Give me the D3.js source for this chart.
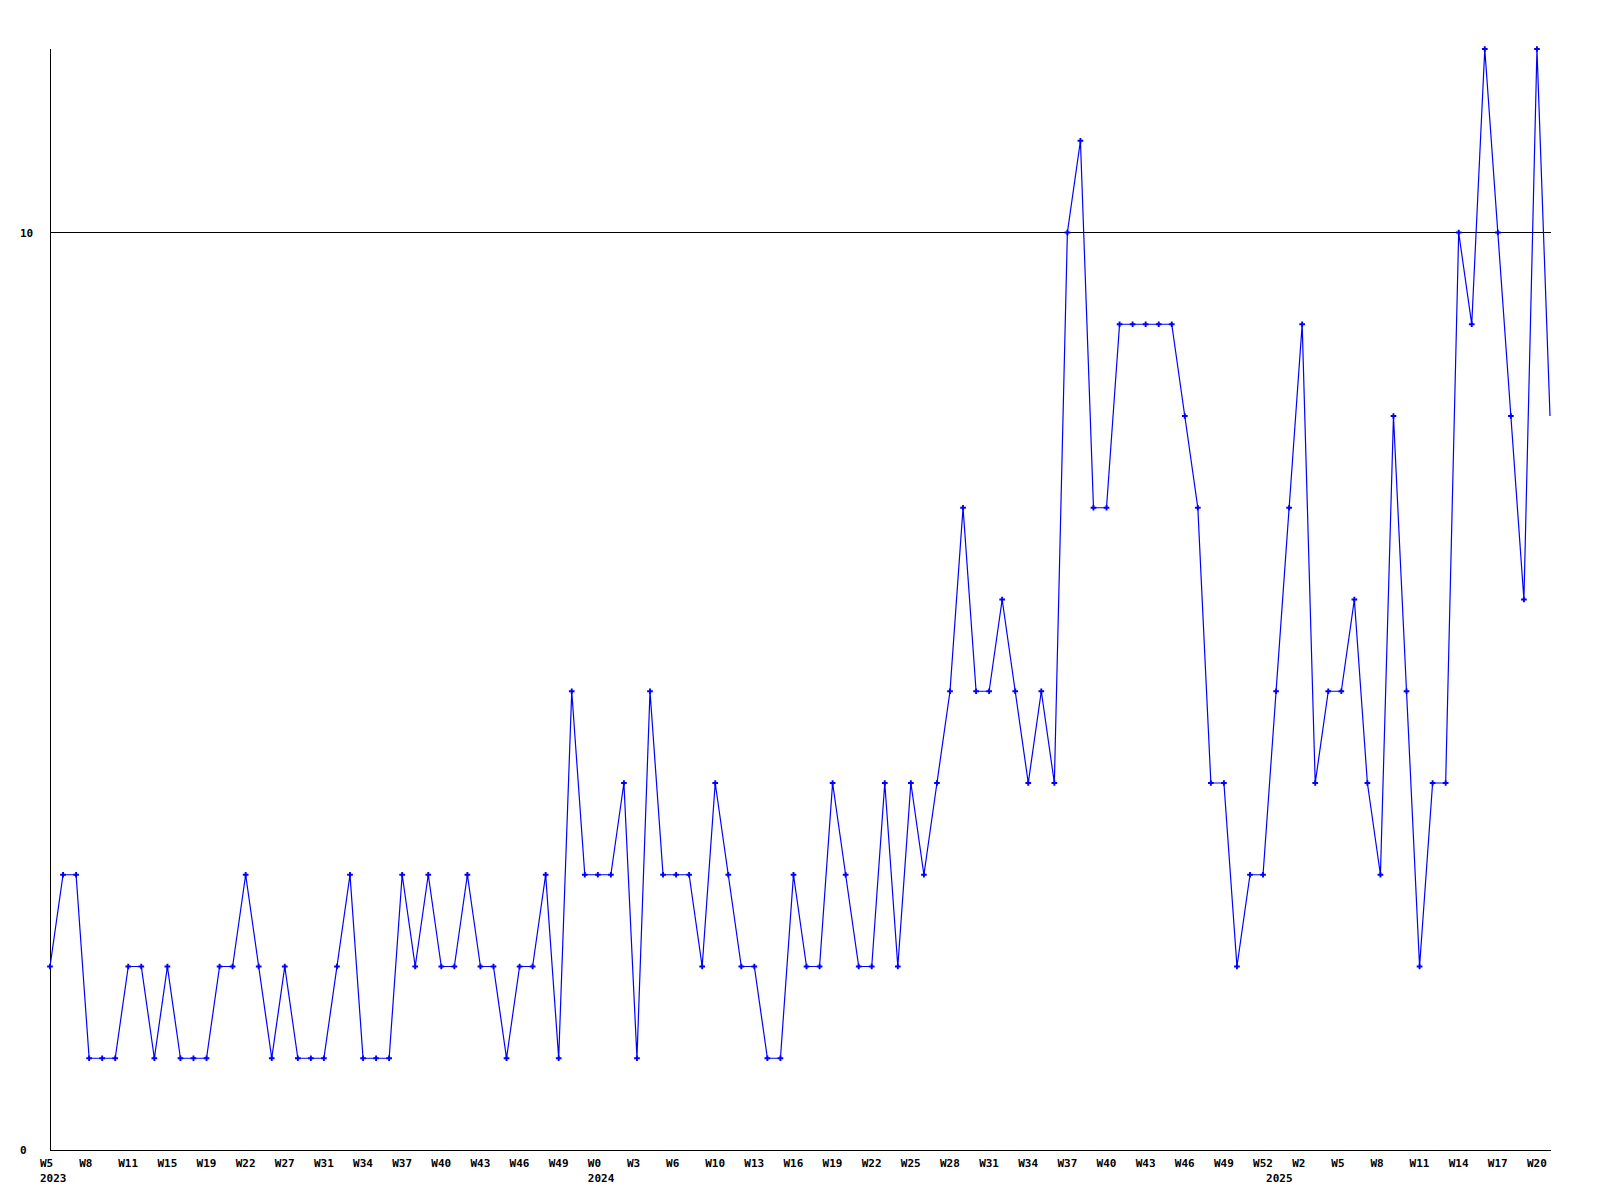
<!DOCTYPE html>
<html>
<head>
<meta charset="utf-8">
<script src="https://cdn.jsdelivr.net/npm/d3@7"></script>
<style>
  html, body { margin: 0; padding: 0; background: #fff; }
  svg { display: block; }
  text { font-family: "DejaVu Sans Mono", monospace; font-weight: bold; font-size: 11px; fill: #000; }
</style>
</head>
<body>
<svg id="chart" width="1600" height="1200"></svg>
<script>
// Weekly counts (one point per recorded week)
const values = [
  2,3,3,1,1,1,2,2,1,2,
  1,1,1,2,2,3,2,1,2,1,
  1,1,2,3,1,1,1,3,2,3,
  2,2,3,2,2,1,2,2,3,1,
  5,3,3,3,4,1,5,3,3,3,
  2,4,3,2,2,1,1,3,2,2,
  4,3,2,2,4,2,4,3,4,5,
  7,5,5,6,5,4,5,4,10,11,
  7,7,9,9,9,9,9,8,7,4,
  4,2,3,3,5,7,9,4,5,5,
  6,4,3,8,5,2,4,4,10,9,
  12,10,8,6,12,8
];
// Week labels shown on every third point
const weekLabels = [
  "W5","W8","W11","W15","W19","W22","W27","W31","W34","W37","W40","W43","W46","W49",
  "W0","W3","W6","W10","W13","W16","W19","W22","W25","W28","W31","W34","W37","W40","W43","W46","W49","W52",
  "W2","W5","W8","W11","W14","W17","W20"
];
const labelEvery = 3;
// Year labels and the point index at which each year starts
const years = ["2023","2024","2025"];
const yearStartIndex = [0, 42, 94];
// Y axis labelled values
const yTicks = [0, 10];
const yMax = 12;

(function () {
  const svg = d3.select("#chart");
  const mLeft = 50, mRight = 1550, mTop = 49, mBottom = 1150;

  const x = d3.scaleLinear().domain([0, values.length - 1]).range([mLeft, mRight]);
  const y = d3.scaleLinear().domain([0, yMax]).range([mBottom, mTop]);

  // Left axis line
  svg.append("line").attr("x1", mLeft + 0.5).attr("x2", mLeft + 0.5)
    .attr("y1", mTop).attr("y2", mBottom + 1)
    .attr("stroke", "#000").attr("stroke-width", 1).attr("shape-rendering", "crispEdges");

  // Horizontal lines at labelled y values (0 is the x axis)
  svg.selectAll("line.hgrid").data(yTicks).join("line")
    .attr("class", "hgrid")
    .attr("x1", mLeft).attr("x2", mRight + 1)
    .attr("y1", d => Math.round(y(d)) + 0.5).attr("y2", d => Math.round(y(d)) + 0.5)
    .attr("stroke", "#000").attr("stroke-width", 1).attr("shape-rendering", "crispEdges");

  // Y labels
  svg.selectAll("text.ylab").data(yTicks).join("text")
    .attr("class", "ylab")
    .attr("x", 20)
    .attr("y", d => y(d) + 4)
    .text(d => d);

  // X week labels
  svg.selectAll("text.xlab").data(weekLabels).join("text")
    .attr("class", "xlab")
    .attr("x", (d, i) => x(i * labelEvery) - 10)
    .attr("y", 1167)
    .text(d => d);

  // Year labels
  svg.selectAll("text.year").data(years).join("text")
    .attr("class", "year")
    .attr("x", (d, i) => x(yearStartIndex[i]) - 10)
    .attr("y", 1182)
    .text(d => d);

  // Data line
  const line = d3.line().x((d, i) => x(i)).y(d => y(d));
  svg.append("path").datum(values)
    .attr("d", line)
    .attr("fill", "none")
    .attr("stroke", "#0000ff")
    .attr("stroke-width", 1.2);

  // Point markers (the trailing, in-progress point has none)
  const marker = d3.symbol().type(d3.symbolCross).size(18);
  svg.selectAll("path.pt").data(values.slice(0, -1)).join("path")
    .attr("class", "pt")
    .attr("transform", (d, i) => `translate(${x(i)},${y(d)})`)
    .attr("d", marker)
    .attr("fill", "#0000ff");
})();
</script>
</body>
</html>
